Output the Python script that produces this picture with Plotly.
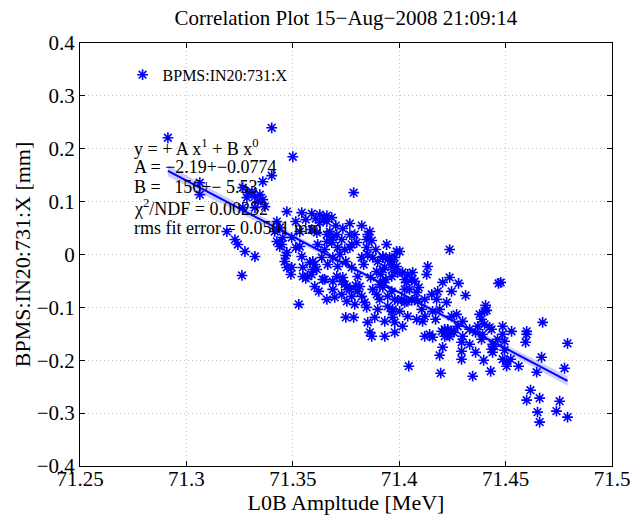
import numpy as np
import plotly.graph_objects as go

# ---------------- data ----------------
amp_mev = [
    71.2913, 71.3401, 71.3500, 71.3359, 71.3401, 71.3063, 71.3063, 71.3265, 71.3289, 71.3284,
    71.3322, 71.3336, 71.3359, 71.3369, 71.3322, 71.3265, 71.3472, 71.3190, 71.3228, 71.3242,
    71.3275, 71.3322, 71.3261, 71.3425, 71.3439, 71.3425, 71.3439, 71.3453, 71.3472, 71.3462,
    71.3472, 71.3495, 71.3491, 71.3528, 71.3308, 71.3345, 71.3786, 71.3542, 71.3589, 71.3627,
    71.3646, 71.3660, 71.3627, 71.3660, 71.3683, 71.3768, 71.3862, 71.3852, 71.3448, 71.3495,
    71.3533, 71.3589, 71.3613, 71.3660, 71.3674, 71.3688, 71.3707, 71.3683, 71.3660, 71.3730,
    71.3768, 71.3791, 71.3800, 71.3768, 71.3744, 71.3711, 71.3847, 71.3852, 71.3824, 71.3876,
    71.3899, 71.3923, 71.3946, 71.3988, 71.3965, 71.3923, 71.3894, 71.3467, 71.3542, 71.3547,
    71.3594, 71.3603, 71.3594, 71.3589, 71.3547, 71.3561, 71.3603, 71.3641, 71.3688, 71.3711,
    71.3707, 71.3730, 71.3744, 71.3754, 71.3735, 71.3805, 71.3815, 71.3805, 71.3824, 71.3838,
    71.3847, 71.3791, 71.3754, 71.3730, 71.3697, 71.3688, 71.3876, 71.3894, 71.3908, 71.3923,
    71.3923, 71.3946, 71.3908, 71.3899, 71.3946, 71.3965, 71.3969, 71.3979, 71.3932, 71.3852,
    71.3862, 71.3871, 71.3932, 71.3979, 71.3749, 71.3786, 71.3533, 71.3415, 71.3580, 71.3570,
    71.3613, 71.3650, 71.3768, 71.3796, 71.3847, 71.3777, 71.3721, 71.3650, 71.3617, 71.4237,
    71.4002, 71.3979, 71.3965, 71.3988, 71.3969, 71.3993, 71.3965, 71.4016, 71.4040, 71.4063,
    71.4026, 71.4035, 71.4059, 71.4073, 71.4092, 71.4134, 71.4129, 71.4204, 71.4237, 71.4279,
    71.4181, 71.4246, 71.4153, 71.4176, 71.4312, 71.4223, 71.3965, 71.3979, 71.3993, 71.4012,
    71.4035, 71.4059, 71.4073, 71.4087, 71.3969, 71.4002, 71.4040, 71.4082, 71.4120, 71.4110,
    71.4157, 71.4016, 71.4049, 71.4120, 71.4143, 71.4157, 71.4200, 71.4214, 71.4228, 71.4246,
    71.4228, 71.4237, 71.4256, 71.4214, 71.4246, 71.4298, 71.4298, 71.4293, 71.4204, 71.4190,
    71.4293, 71.4293, 71.4359, 71.4397, 71.4430, 71.4345, 71.4195, 71.4045, 71.4401, 71.4378,
    71.4387, 71.4401, 71.4369, 71.4359, 71.4425, 71.4439, 71.4387, 71.4467, 71.3923, 71.3955,
    71.3932, 71.3913, 71.3937, 71.4106, 71.4026, 71.4477, 71.4411, 71.4392, 71.4406, 71.4434,
    71.4486, 71.4486, 71.4528, 71.4495, 71.4599, 71.4599, 71.4594, 71.4674, 71.4791, 71.4448,
    71.4434, 71.4439, 71.4495, 71.4486, 71.4505, 71.4505, 71.4524, 71.4561, 71.4669, 71.4646,
    71.4777, 71.4617, 71.4599, 71.4660, 71.4754, 71.4650, 71.4739, 71.4660, 71.4791, 71.3514,
    71.3561, 71.3608, 71.3702, 71.3735, 71.3824, 71.3871, 71.3890, 71.3941, 71.3636, 71.3664,
    71.3688, 71.3749, 71.3777, 71.3833, 71.3866, 71.3622, 71.3660, 71.3777, 71.3885, 71.4026,
    71.4082, 71.4120, 71.4171, 71.4270, 71.4331, 71.4331, 71.4275, 71.4462, 71.4190, 71.3514,
]
bpm_x_mm = [
    0.2208, 0.2396, 0.1849, 0.1377, 0.1491, 0.1358, 0.1132, 0.1264, 0.1170, 0.1075,
    0.1094, 0.1000, 0.1038, 0.0906, 0.0887, 0.0887, 0.0811, 0.0434, 0.0283, 0.0189,
    0.0057, -0.0038, -0.0396, 0.0623, 0.0509, 0.0245, 0.0151, 0.0321, 0.0038, -0.0132,
    -0.0245, -0.0245, -0.0377, -0.0943, 0.1189, 0.1132, 0.1170, 0.0792, 0.0774, 0.0755,
    0.0679, 0.0623, 0.0604, 0.0736, 0.0698, 0.0585, 0.0434, 0.0377, 0.0189, 0.0321,
    0.0434, 0.0472, 0.0415, 0.0377, 0.0434, 0.0321, 0.0377, 0.0226, 0.0245, 0.0283,
    0.0377, 0.0377, 0.0226, 0.0132, 0.0094, 0.0132, 0.0132, 0.0000, -0.0057, -0.0057,
    -0.0132, -0.0057, -0.0094, 0.0057, -0.0189, -0.0283, -0.0321, -0.0019, -0.0038, -0.0245,
    -0.0132, -0.0189, -0.0283, -0.0377, -0.0415, -0.0453, -0.0604, -0.0472, -0.0509, -0.0226,
    -0.0415, -0.0509, -0.0566, -0.0604, -0.0434, -0.0415, -0.0604, -0.0698, -0.0792, -0.0906,
    -0.1000, -0.0943, -0.0887, -0.0755, -0.0811, -0.0660, -0.0660, -0.0755, -0.0566, -0.0623,
    -0.0528, -0.0792, -0.0849, -0.1038, -0.0981, -0.1075, -0.1189, -0.1283, -0.1264, -0.1283,
    -0.1472, -0.1547, -0.1547, -0.1472, -0.1189, -0.1189, 0.0151, 0.0434, -0.0151, -0.0415,
    -0.0283, -0.0472, -0.0660, -0.0585, 0.0283, 0.0189, 0.0000, 0.0094, 0.0189, 0.0094,
    0.0057, -0.0057, -0.0132, -0.0226, -0.0283, -0.0340, -0.0415, -0.0340, -0.0377, -0.0340,
    -0.0472, -0.0528, -0.0472, -0.0509, -0.0623, -0.0226, -0.0377, -0.0528, -0.0434, -0.0547,
    -0.0698, -0.0698, -0.0755, -0.0849, -0.0774, -0.0906, -0.0698, -0.0849, -0.0868, -0.0849,
    -0.0887, -0.0868, -0.0849, -0.0887, -0.1038, -0.1075, -0.1170, -0.1226, -0.1170, -0.1264,
    -0.1075, -0.1358, -0.0660, -0.1547, -0.1509, -0.1566, -0.1453, -0.1415, -0.1415, -0.1453,
    -0.1509, -0.1547, -0.1472, -0.1547, -0.1170, -0.1264, -0.1547, -0.1660, -0.1755, -0.1906,
    -0.1830, -0.1981, -0.1849, -0.2000, -0.2208, -0.2302, -0.2245, -0.2113, -0.1075, -0.1132,
    -0.1226, -0.1321, -0.1358, -0.1472, -0.1377, -0.1698, -0.1604, -0.0547, -0.0038, -0.0057,
    -0.0245, -0.0377, -0.0472, -0.1038, -0.0906, -0.0528, -0.1057, -0.1509, -0.0962, -0.1415,
    -0.1358, -0.1509, -0.1453, -0.1642, -0.1453, -0.1509, -0.1660, -0.1283, -0.1679, -0.1736,
    -0.1792, -0.1849, -0.1811, -0.1981, -0.2019, -0.2113, -0.1981, -0.2113, -0.1943, -0.2226,
    -0.2151, -0.2566, -0.2755, -0.2717, -0.2774, -0.2981, -0.2962, -0.3170, -0.3075, 0.0623,
    0.0660, 0.0679, 0.0547, 0.0491, 0.0547, 0.0264, 0.0094, 0.0189, -0.0057, -0.0189,
    -0.0057, -0.0132, -0.0245, -0.0189, -0.0434, -0.0698, -0.0849, -0.0792, -0.1189, -0.0660,
    -0.0717, -0.0849, -0.1226, -0.1132, -0.1415, -0.1698, -0.1358, -0.1604, -0.1038, 0.0132,
]

series_name = "BPMS:IN20:731:X"
title_text = "Correlation Plot 15\u2212Aug\u22122008 21:09:14"
x_title = "L0B Ampltude [MeV]"
y_title = "BPMS:IN20:731:X [mm]"
x_tick_vals = [71.25, 71.3, 71.35, 71.4, 71.45, 71.5]
x_tick_text = ["71.25", "71.3", "71.35", "71.4", "71.45", "71.5"]
y_tick_vals = [-0.4, -0.3, -0.2, -0.1, 0, 0.1, 0.2, 0.3, 0.4]
y_tick_text = ["\u22120.4", "\u22120.3", "\u22120.2", "\u22120.1", "0", "0.1", "0.2", "0.3", "0.4"]
fit_lines = [
    "y = + A x<sup>1</sup> + B x<sup>0</sup>",
    "A = \u22122.19+\u22120.0774",
    "B =   156+\u2212 5.53",
    "\u03c7<sup>2</sup>/NDF = 0.00252",
    "rms fit error = 0.0501 mm",
]

# ---------------- linear fit and confidence band ----------------
x = np.array(amp_mev)
y = np.array(bpm_x_mm)
A, B = np.polyfit(x, y, 1)
resid = y - (A * x + B)
n = len(x)
s = np.sqrt(np.sum(resid ** 2) / (n - 2))
xm = x.mean()
sxx = np.sum((x - xm) ** 2)
xf = np.linspace(x.min(), x.max(), 60)
yf = A * xf + B
se = s * np.sqrt(1.0 / n + (xf - xm) ** 2 / sxx)
band = 1.2 * se

FONT = "Liberation Serif, Times New Roman, serif"

fig = go.Figure()
fig.add_trace(go.Scatter(x=xf, y=yf + band, mode="lines", line=dict(width=0),
                         showlegend=False, hoverinfo="skip"))
fig.add_trace(go.Scatter(x=xf, y=yf - band, mode="lines", line=dict(width=0),
                         fill="tonexty", fillcolor="rgba(90,90,255,0.30)",
                         showlegend=False, hoverinfo="skip"))
fig.add_trace(go.Scatter(x=xf, y=yf, mode="lines", line=dict(color="#0000ff", width=2),
                         showlegend=False, hoverinfo="skip"))
fig.add_trace(go.Scatter(x=amp_mev, y=bpm_x_mm, mode="markers", name=series_name,
                         marker=dict(symbol="asterisk-open", size=9, color="#0000ff",
                                     line=dict(color="#0000ff", width=1.6))))

ann_y = [0.752, 0.706, 0.659, 0.610, 0.563]
for txt, yy in zip(fit_lines, ann_y):
    fig.add_annotation(x=0.097, y=yy, xref="paper", yref="paper", text=txt,
                       showarrow=False, xanchor="left", yanchor="middle",
                       font=dict(family=FONT, size=18, color="black"))

axis_common = dict(showline=True, linecolor="black", linewidth=1, mirror="ticks",
                   ticks="inside", ticklen=5, tickcolor="black", automargin=False,
                   ticklabeloverflow="allow",
                   showgrid=True, gridcolor="#c4c4c4", griddash="1px,3px", gridwidth=1,
                   zeroline=False, tickfont=dict(family=FONT, size=21, color="black"))

fig.update_xaxes(range=[71.25, 71.5], tickvals=x_tick_vals, ticktext=x_tick_text,
                 ticklabelstandoff=-6,
                 title=dict(text=x_title, font=dict(family=FONT, size=22, color="black"),
                            standoff=0), **axis_common)
fig.update_yaxes(range=[-0.4, 0.4], tickvals=y_tick_vals, ticktext=y_tick_text,
                 title=dict(text=y_title, font=dict(family=FONT, size=22, color="black"),
                            standoff=0), **axis_common)

fig.update_layout(
    width=630, height=515,
    margin=dict(l=80, r=18, t=43, b=49),
    paper_bgcolor="white", plot_bgcolor="white",
    title=dict(text=title_text, xref="paper", x=0.5, xanchor="center",
               yref="container", y=0.965, yanchor="middle",
               font=dict(family=FONT, size=21, color="black")),
    legend=dict(x=0.08, y=0.965, xanchor="left", yanchor="top", bgcolor="rgba(0,0,0,0)",
                borderwidth=0, font=dict(family=FONT, size=16, color="black")),
    showlegend=True,
)

fig.write_html("out.html", config={"displayModeBar": False},
               post_script="document.body.style.margin='0px';"
                           "document.body.style.overflow='hidden';")
